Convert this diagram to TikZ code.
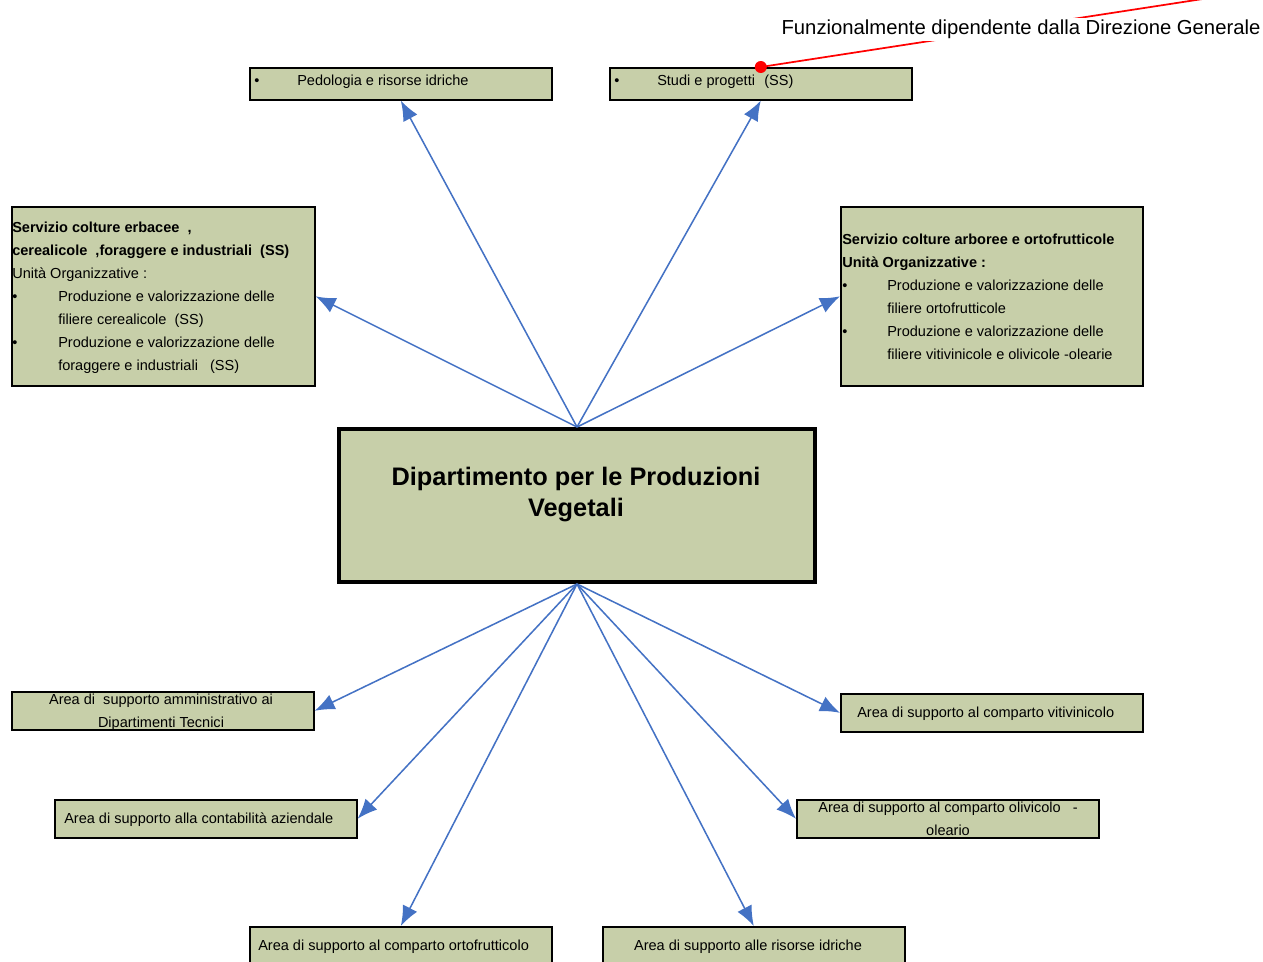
\documentclass[tikz,border=0pt]{standalone}
\usepackage{fontspec}
\setmainfont{Liberation Sans}
\usetikzlibrary{arrows.meta}
\definecolor{boxfill}{RGB}{199,207,169}
\definecolor{arrowblue}{RGB}{68,114,196}
\newcommand\smtext{\fontsize{10.9pt}{17.25pt}\selectfont}
\begin{document}
\begin{tikzpicture}[x=0.75pt,y=-0.75pt,
  orgbox/.style={draw=black, fill=boxfill, line width=1.2pt, inner sep=0pt, anchor=north west},
  smallbox/.style={orgbox, minimum width=226.5pt, minimum height=28.5pt},
  txt/.style={inner sep=0pt, font=\smtext},
  conn/.style={draw=arrowblue, line width=1.15pt, -{Latex[length=15pt,width=12pt]}}]
\useasboundingbox (0,0) rectangle (1263,961);

% boxes
\node[orgbox, minimum width=226.5pt, minimum height=24pt] (ped) at (249,67) {};
\node[orgbox, minimum width=226.5pt, minimum height=24pt] (studi) at (609,67) {};
\node[orgbox, minimum width=227.25pt, minimum height=134.25pt] (lbox) at (11,206) {};
\node[orgbox, minimum width=226.5pt, minimum height=134.25pt] (rbox) at (840,206) {};
\node[orgbox, line width=3pt, minimum width=357pt, minimum height=114.75pt] (dip) at (337,427) {};
\node[smallbox] (ba1) at (11,691) {};
\node[smallbox] (ba2) at (54,799) {};
\node[smallbox, minimum height=30pt] (ba3) at (249,926) {};
\node[smallbox, minimum height=30pt] (ba4) at (602,926) {};
\node[smallbox] (bv1) at (840,693) {};
\node[smallbox] (bv2) at (796,799) {};

% texts
\node[txt, anchor=west] (pedt) at (254,82) {\makebox[32.25pt][l]{\textbullet}Pedologia e risorse idriche};
\node[txt, anchor=west] (studit) at (614,82) {\makebox[32.25pt][l]{\textbullet}Studi e progetti\hspace{7pt}(SS)};
\node[txt, anchor=west, align=left] (lboxt) at (12,298) {\textbf{Servizio colture erbacee\ \ ,}\\
  \textbf{cerealicole\ \ ,foraggere e industriali\ \ (SS)}\\
  Unità Organizzative :\\
  \makebox[34.5pt][l]{\textbullet}Produzione e valorizzazione delle\\
  \hspace*{34.5pt}filiere cerealicole\ \ (SS)\\
  \makebox[34.5pt][l]{\textbullet}Produzione e valorizzazione delle\\
  \hspace*{34.5pt}foraggere e industriali\ \ \ (SS)};
\node[txt, anchor=west, align=left] (rboxt) at (842,296.5) {\textbf{Servizio colture arboree e ortofrutticole}\\
  \textbf{Unità Organizzative :}\\
  \makebox[33.75pt][l]{\textbullet}Produzione e valorizzazione delle\\
  \hspace*{33.75pt}filiere ortofrutticole\\
  \makebox[33.75pt][l]{\textbullet}Produzione e valorizzazione delle\\
  \hspace*{33.75pt}filiere vitivinicole e olivicole -olearie};
\node[inner sep=0pt, align=center, font=\fontsize{19pt}{23.25pt}\selectfont\bfseries] (dipt) at (576,494.5) {Dipartimento per le Produzioni\\Vegetali};
\node[txt, align=center] (ba1t) at (161,712.5) {Area di\ \ supporto amministrativo ai\\Dipartimenti Tecnici};
\node[txt, anchor=west] (ba2t) at (64,820) {Area di supporto alla contabilità aziendale};
\node[txt, anchor=west] (ba3t) at (258,947) {Area di supporto al comparto ortofrutticolo};
\node[txt] (ba4t) at (748,947) {Area di supporto alle risorse idriche};
\node[txt, anchor=west] (bv1t) at (857,714) {Area di supporto al comparto vitivinicolo};
\node[txt, align=center] (bv2t) at (948,819) {Area di supporto al comparto olivicolo\ \ \ -\\oleario};

% connectors
\draw[conn] (dip.north) -- (ped.south);
\draw[conn] (dip.north) -- (studi.south);
\draw[conn] (dip.north) -- (lbox.east);
\draw[conn] (dip.north) -- (rbox.west);
\draw[conn] (dip.south) -- (ba1.east);
\draw[conn] (dip.south) -- (ba2.east);
\draw[conn] (dip.south) -- (ba3.north);
\draw[conn] (dip.south) -- (ba4.north);
\draw[conn] (dip.south) -- (bv2.west);
\draw[conn] (dip.south) -- (bv1.west);

% annotation
\coordinate (redend) at (1222,-4);
\draw[red, line width=1.3pt] (studi.north) -- (redend);
\node[fill=white, inner xsep=1pt, inner ysep=1.5pt, font=\fontsize{15.2pt}{18pt}\selectfont] (note) at (1021,29.5) {Funzionalmente dipendente dalla Direzione Generale};
\node[circle, fill=red, inner sep=0pt, minimum size=9pt] (dot) at (studi.north) {};
\end{tikzpicture}
\end{document}
